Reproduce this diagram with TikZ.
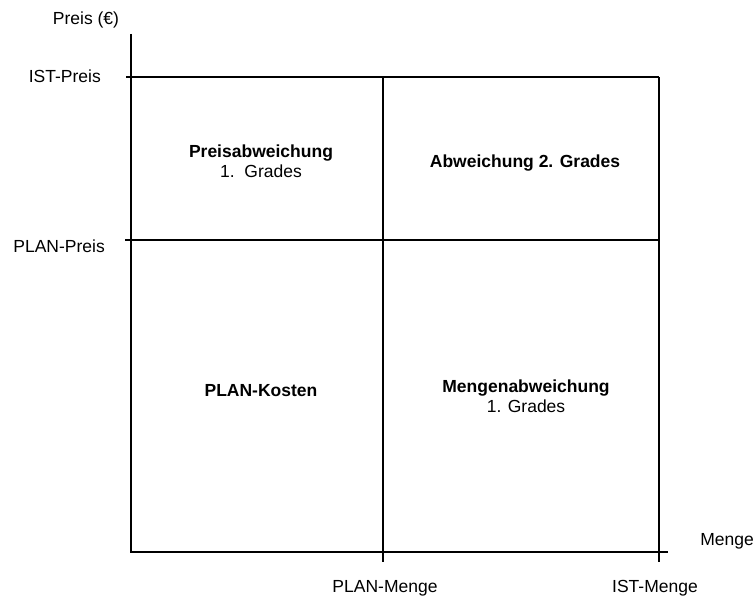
\documentclass[tikz,border=0pt]{standalone}
\usepackage{fontspec}
\setmainfont{Liberation Sans}
\usetikzlibrary{positioning}

\begin{document}
\begin{tikzpicture}[
    x=1pt, y=-1pt,
    lbl/.style={font=\fontsize{17.5}{20}\selectfont, inner sep=0pt},
    field/.style={font=\fontsize{17.5}{20}\selectfont, align=center, inner sep=0pt},
    gridline/.style={line width=1.2pt},
    topline/.style={line width=1.8pt},
    costline/.style={line width=2.6pt, line cap=rect}
]
\useasboundingbox (0,0) rectangle (755,596);

% axes and grid
\draw[gridline] (131,34) -- (131,552);
\draw[gridline] (131,552) -- (668,552);
\draw[gridline] (126,77) -- (383,77);
\draw[topline] (383,77) -- (659,77);
\draw[gridline] (125,240) -- (659,240);
\draw[gridline] (383,77) -- (383,562);
\draw[gridline] (659,77) -- (659,562);
\draw[costline] (131,77) -- (131,552) -- (383,552);

% axis labels
\node[lbl] (ylab) at (86,20) {Preis (€)};
\node[lbl, anchor=east] (istpreis) at (101,76) {IST-Preis};
\node[lbl, anchor=east] (planpreis) at (105,246) {PLAN-Preis};
\node[lbl] (xlab) at (727,541) {Menge};
\node[lbl] (planmenge) at (385,588) {PLAN-Menge};
\node[lbl] (istmenge) at (655,588) {IST-Menge};

% fields
\node[field] (preisabw) at (261,161) {\textbf{Preisabweichung}\\1.~~Grades};
\node[field] (abw2) at (525,163) {\textbf{Abweichung 2. Grades}};
\node[field] (plankosten) at (261,391) {\textbf{PLAN-Kosten}};
\node[field] (mengenabw) at (526,396) {\textbf{Mengenabweichung}\\1. Grades};
\end{tikzpicture}
\end{document}
